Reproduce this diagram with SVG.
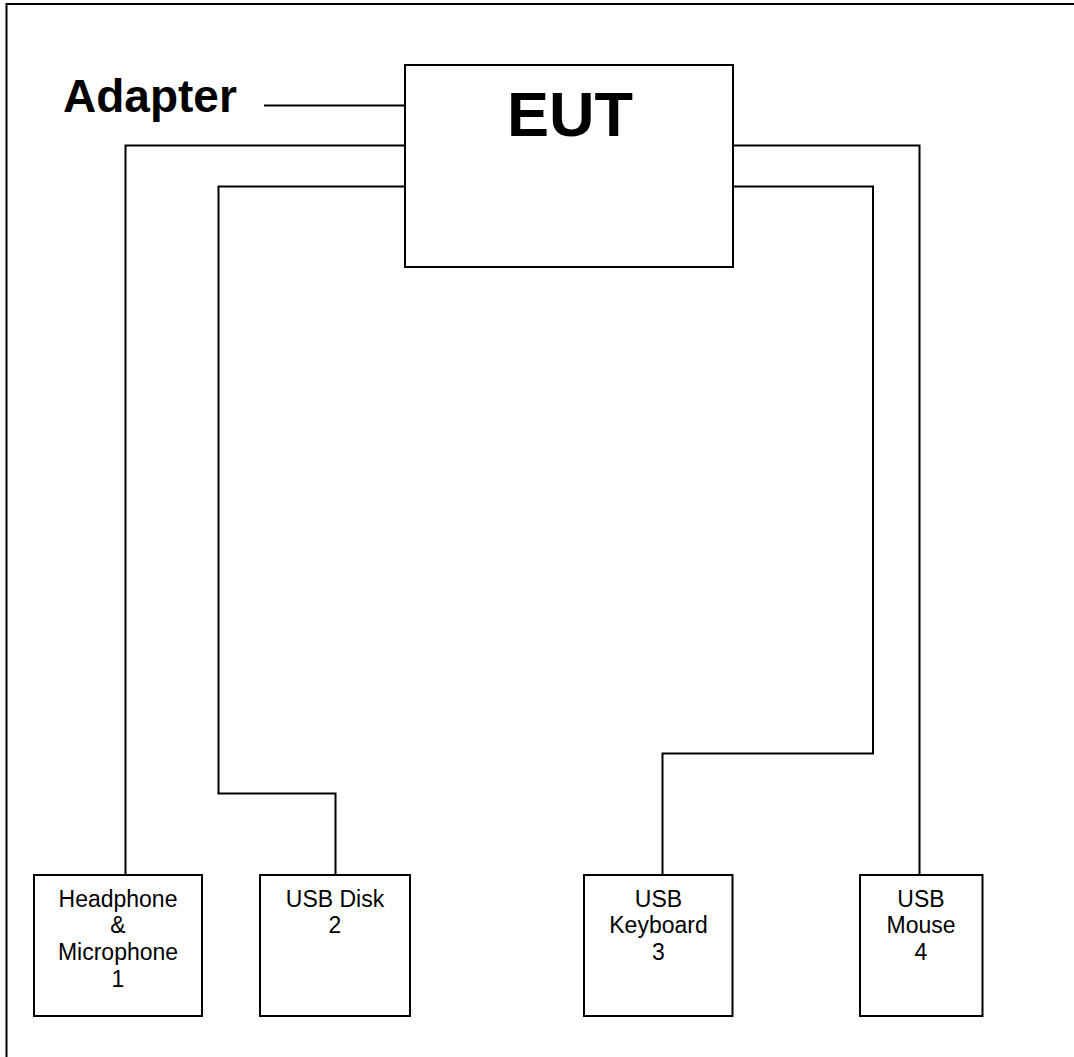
<svg xmlns="http://www.w3.org/2000/svg" width="1074" height="1057" viewBox="0 0 1074 1057">
<style>
.box{fill:#fff;stroke:#000;stroke-width:2}
.ln{fill:none;stroke:#000;stroke-width:2}
.lbl{font-family:"Liberation Sans",Arial,sans-serif;font-size:23px;text-anchor:middle;fill:#000}
.big{font-family:"Liberation Sans",Arial,sans-serif;font-weight:bold;fill:#000}
</style>
<rect x="0" y="0" width="1074" height="1057" fill="#fff"/>
<rect x="6.5" y="4" width="1120" height="1120" fill="none" stroke="#000" stroke-width="2"/>
<g id="connectors">
<path class="ln" d="M264,105.5 H405"/>
<path class="ln" d="M405,145.5 H125.5 V875"/>
<path class="ln" d="M405,186.5 H218.5 V793.5 H335.5 V875"/>
<path class="ln" d="M733,186.5 H873 V753.5 H662.5 V875"/>
<path class="ln" d="M733,145.5 H919.5 V875"/>
</g>
<g id="adapter">
<text class="big" x="63" y="112" font-size="46">Adapter</text>
</g>
<g id="eut">
<rect class="box" x="405" y="65" width="328" height="202"/>
<text class="big" x="570" y="136" font-size="63" text-anchor="middle">EUT</text>
</g>
<g id="headphone">
<rect class="box" x="34" y="875" width="168" height="141"/>
<text class="lbl" x="118" y="906.5">Headphone</text>
<text class="lbl" x="118" y="933">&amp;</text>
<text class="lbl" x="118" y="960">Microphone</text>
<text class="lbl" x="118" y="986.5">1</text>
</g>
<g id="usbdisk">
<rect class="box" x="260" y="875" width="150" height="141"/>
<text class="lbl" x="335" y="906.5">USB Disk</text>
<text class="lbl" x="335" y="933">2</text>
</g>
<g id="keyboard">
<rect class="box" x="584" y="875" width="148.5" height="141"/>
<text class="lbl" x="658.5" y="906.5">USB</text>
<text class="lbl" x="658.5" y="933">Keyboard</text>
<text class="lbl" x="658.5" y="960">3</text>
</g>
<g id="mouse">
<rect class="box" x="860" y="875" width="122.5" height="141"/>
<text class="lbl" x="921" y="906.5">USB</text>
<text class="lbl" x="921" y="933">Mouse</text>
<text class="lbl" x="921" y="960">4</text>
</g>
</svg>
